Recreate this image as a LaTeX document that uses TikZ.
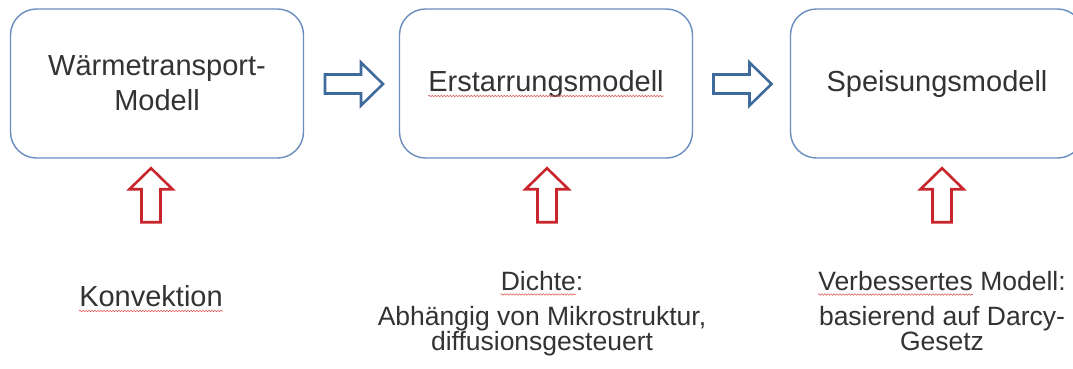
\documentclass[tikz,border=0pt]{standalone}
\usepackage{fontspec}
\setmainfont{Liberation Sans}
\usetikzlibrary{decorations.pathmorphing,calc}
\definecolor{boxblue}{HTML}{6A8DBF}
\definecolor{arrowblue}{HTML}{3F6A9C}
\definecolor{arrowred}{HTML}{C8252D}
\definecolor{txt}{HTML}{333333}
\definecolor{squig}{HTML}{E05A5A}
\newlength\sqlen
\newcommand\boxfont{\fontsize{29}{35}\selectfont}
\newcommand\lowfont{\fontsize{26.5}{30}\selectfont}
\tikzset{
  modelbox/.style={draw=boxblue, line width=1.4pt, rounded corners=26pt,
    minimum width=293pt, minimum height=149pt, inner sep=0pt,
    text=txt, font=\boxfont, align=center},
  bluearrow/.style={draw=arrowblue, line width=2.6pt, fill=white, line join=miter},
  redarrow/.style={draw=arrowred, line width=2.6pt, fill=white, line join=miter},
  lowtext/.style={inner sep=0pt, anchor=base, text=txt, font=\lowfont},
  bigtext/.style={inner sep=0pt, anchor=base, text=txt, font=\boxfont},
  squiggle/.style={draw=squig, line width=0.6pt,
    decorate, decoration={snake, amplitude=0.8pt, segment length=3pt}}
}
\begin{document}
\settowidth\sqlen{\boxfont Erstarrungsmodell}\pgfmathsetmacro\wErst{\sqlen}%
\settowidth\sqlen{\lowfont Dichte}\pgfmathsetmacro\wDichte{\sqlen}%
\settowidth\sqlen{\lowfont Verbessertes}\pgfmathsetmacro\wVerb{\sqlen}%
\begin{tikzpicture}[x=1pt,y=-1pt]
\useasboundingbox (0,0) rectangle (1073,368);
\clip (0,0) rectangle (1073,368);
\fill[white] (0,0) rectangle (1073,368);

% boxes
\node[modelbox] (waerme) at (157,83.5) {Wärmetransport-\\Modell};
\node[modelbox] (erst) at (546,83.5) {Erstarrungsmodell};
\node[modelbox] (speis) at (937,83.5) {Speisungsmodell};

% blue block arrows between boxes
\coordinate (m1) at ($($(waerme.east)!0.5!(erst.west)$)+(2.5,0.5)$);
\coordinate (m2) at ($($(erst.east)!0.5!(speis.west)$)+(1,0.5)$);
\foreach \m in {m1,m2}{
  \draw[bluearrow] ($(\m)+(-29,-9.5)$) -- ++(36,0) -- ++(0,-12) -- ($(\m)+(29,0)$)
    -- ($(\m)+(7,21.5)$) -- ++(0,-12) -- ++(-36,0) -- cycle;
}

% red block arrows under boxes
\foreach \b/\dx in {waerme/-6,erst/1,speis/5}{
  \draw[redarrow] ($(\b.south)+(\dx,9.5)$) -- ++(21.5,21) -- ++(-12,0) -- ++(0,33)
    -- ++(-19,0) -- ++(0,-33) -- ++(-12,0) -- cycle;
}

% bottom texts
\node[bigtext] (konv) at (151,306.5) {Konvektion};
\node[lowtext] (dichte) at (542,290) {Dichte:};
\node[lowtext] (abh) at (542,325) {Abhängig von Mikrostruktur,};
\node[lowtext] (diff) at (542,350.5) {diffusionsgesteuert};
\node[lowtext] (verb) at (942,290) {Verbessertes Modell:};
\node[lowtext] (basi) at (942,325) {basierend auf Darcy-};
\node[lowtext] (ges) at (942,350.5) {Gesetz};

% spell-check underlines
\draw[squiggle] ($(erst.base)+(-0.5*\wErst,5)$) -- ($(erst.base)+(0.5*\wErst,5)$);
\draw[squiggle] ($(konv.base west)+(0,4.5)$) -- ($(konv.base east)+(0,4.5)$);
\draw[squiggle] ($(dichte.base west)+(0,4.5)$) -- ($(dichte.base west)+(\wDichte,4.5)$);
\draw[squiggle] ($(verb.base west)+(0,4.5)$) -- ($(verb.base west)+(\wVerb,4.5)$);
\end{tikzpicture}
\end{document}
